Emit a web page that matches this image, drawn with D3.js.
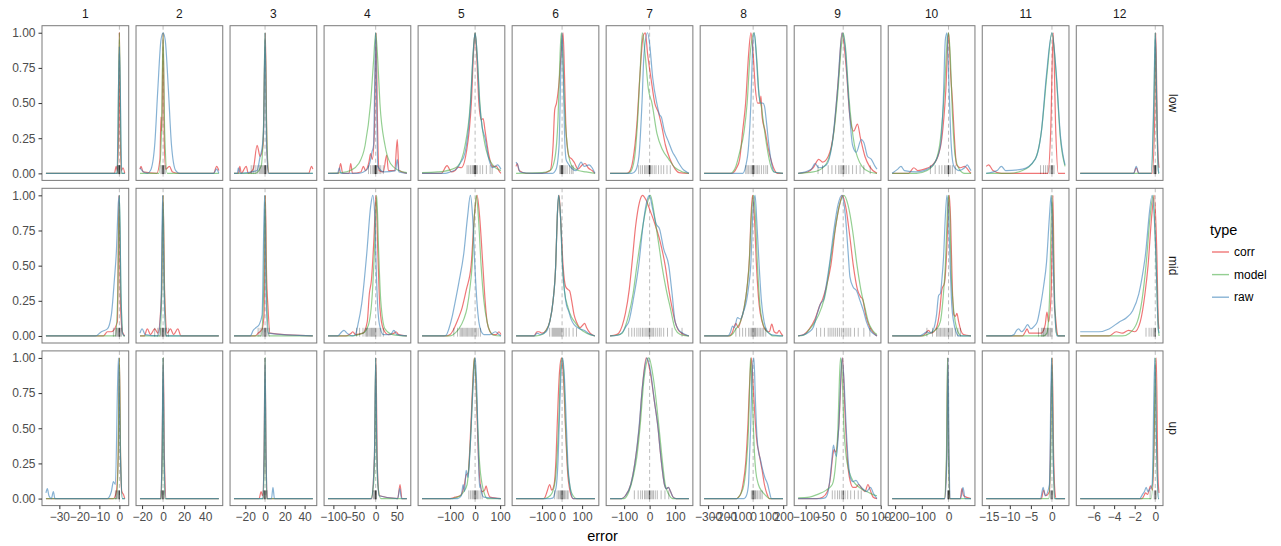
<!DOCTYPE html>
<html>
<head>
<meta charset="utf-8">
<script src="https://cdn.jsdelivr.net/npm/d3@7"></script>
<style>
  body { margin: 0; background: #fff; }
  text { font-family: "Liberation Sans", Arial, sans-serif; }
</style>
</head>
<body>
<svg id="chart" width="1281" height="546"></svg>
<script>
// facets
const cols = ["1","2","3","4","5","6","7","8","9","10","11","12"];
const rows = ["low","mid","up"];
const types = ["corr","model","raw"];

// data range per column (free x scales)
const xRange = [[-36.7,2.7],[-22,53],[-31.4,48.3],[-112.7,73.7],[-212,103],[-230,164],
                [-155,154],[-326.5,198.5],[-120,90],[-211,84],[-15.6,3.1],[-7.3,0.37]];
const xTicks = [[-30,-20,-10,0],[-20,0,20,40],[-20,0,20,40],[-100,-50,0,50],[-100,0,100],[-100,0,100],
                [-100,0,100],[-300,-200,-100,0,100,200],[-100,-50,0,50,100],[-200,-100,0],[-15,-10,-5,0],[-6,-4,-2,0]];
const yTicks = [0, 0.25, 0.5, 0.75, 1];

// scaled density curves: [row][col] -> [[error, scaled], ...]
const corrCurves = [
 [ // low
  [[-36.7,0],[-2.5,0],[-1.6,0.05],[-1,0.02],[-0.4,0.3],[0,1],[0.4,0.3],[1,0.02],[1.8,0.04],[2.7,0]],
  [[-22,0.03],[-21,0.05],[-19,0.01],[-6,0],[-3,0.1],[-2,0.4],[-1.2,0.3],[0,1],[1.2,0.2],[2.5,0.03],[6,0.05],[9,0.01],[15,0],[48,0],[51,0.05],[53,0.02]],
  [[-31.4,0],[-27,0],[-25.5,0.05],[-24,0],[-19,0.05],[-17,0],[-12,0.03],[-8,0.2],[-5,0.12],[-2,0.2],[0.3,1],[2,0.15],[4,0],[44,0],[47,0.05],[48.3,0.03]],
  [[-112.7,0],[-88,0],[-83,0.07],[-78,0],[-63,0],[-59,0.07],[-55,0],[-35,0.01],[-29,0.05],[-24,0.02],[-16,0.08],[-12,0.14],[-8,0.1],[-3,0.3],[1,1],[4,0.4],[8,0.02],[18,0.01],[26,0.13],[30,0.02],[45,0.02],[51,0.24],[55,0.02],[73.7,0]],
  [[-212,0],[-135,0],[-112,0.055],[-95,0.01],[-80,0.02],[-69,0.045],[-55,0.04],[-35,0.15],[-15,0.5],[-5,0.9],[0,1],[6,0.85],[15,0.5],[25,0.38],[32,0.39],[40,0.3],[55,0.13],[70,0.05],[85,0.05],[95,0.02],[103,0]],
  [[-230,0.05],[-224,0.07],[-215,0.02],[-180,0],[-100,0],[-60,0.02],[-45,0.2],[-37,0.45],[-28,0.5],[-15,0.65],[-5,0.85],[5,1],[12,0.7],[20,0.3],[35,0.12],[50,0.1],[60,0.08],[80,0.03],[100,0.06],[115,0.07],[130,0.04],[150,0.02],[164,0]],
  [[-155,0],[-90,0],[-80,0.01],[-65,0.1],[-50,0.35],[-38,0.7],[-25,0.98],[-17,1],[-8,0.85],[5,0.68],[20,0.5],[35,0.43],[48,0.33],[62,0.2],[80,0.1],[100,0.03],[115,0.005],[154,0]],
  [[-326.5,0],[-140,0],[-127,0.01],[-110,0.04],[-90,0.1],[-70,0.3],[-50,0.5],[-30,0.85],[-15,1],[0,0.85],[15,0.6],[30,0.5],[45,0.5],[52,0.55],[60,0.4],[80,0.3],[100,0.18],[118,0.1],[140,0.03],[162,0],[198.5,0]],
  [[-120,0],[-95,0.01],[-80,0.04],[-65,0.1],[-55,0.08],[-40,0.12],[-25,0.3],[-12,0.7],[-3,1],[8,0.75],[18,0.4],[28,0.3],[38,0.35],[46,0.25],[58,0.12],[70,0.05],[90,0]],
  [[-211,0],[-150,0],[-130,0.04],[-115,0.02],[-90,0.03],[-60,0.06],[-40,0.12],[-25,0.25],[-10,0.6],[0,1],[8,0.7],[15,0.5],[22,0.25],[30,0.06],[45,0.04],[60,0.05],[75,0.02],[84,0]],
  [[-15.6,0.05],[-15,0.06],[-14,0.02],[-12,0],[-1,0],[-0.3,0.3],[0.3,1],[0.9,0.3],[1.5,0],[3.1,0]],
  [[-7.3,0],[-2.1,0],[-1.85,0.04],[-1.6,0],[-0.3,0],[-0.05,0.4],[0.05,1],[0.2,0.3],[0.35,0.05],[0.37,0.04]]
 ],
 [ // mid
  [[-36.7,0],[-8,0],[-6,0.03],[-4,0.03],[-1,0.1],[-0.2,1],[0.6,0.2],[1.5,0.03],[2.7,0]],
  [[-22,0],[-18,0],[-15,0.05],[-12,0.01],[-8,0.05],[-5,0.02],[-1.5,0.3],[0,1],[1.5,0.3],[4,0.02],[7,0.05],[10,0.01],[14,0.05],[17,0],[53,0]],
  [[-31.4,0],[-10,0],[-7,0.02],[-3,0.05],[-1,0.15],[0.3,1],[1.5,0.45],[3,0.2],[5,0.02],[48.3,0]],
  [[-112.7,0],[-70,0],[-58,0.02],[-54,0.03],[-48,0.01],[-30,0.02],[-20,0.1],[-15,0.3],[-10,0.4],[-4,0.7],[0.8,1],[5,0.6],[10,0.2],[18,0.05],[30,0.01],[44,0.02],[48,0.03],[54,0.01],[73.7,0]],
  [[-212,0],[-115,0],[-100,0.01],[-85,0.05],[-68,0.12],[-52,0.2],[-35,0.33],[-16,0.5],[-3,0.85],[8,1],[18,0.85],[31,0.5],[40,0.25],[48,0.1],[60,0.03],[70,0.01],[85,0.01],[95,0.03],[103,0.01]],
  [[-230,0],[-140,0],[-125,0.03],[-115,0.03],[-100,0.02],[-80,0.04],[-62,0.1],[-45,0.25],[-32,0.5],[-24,0.85],[-15,1],[-6,0.8],[5,0.5],[18,0.35],[30,0.33],[38,0.32],[48,0.25],[60,0.15],[72,0.1],[90,0.06],[105,0.08],[113,0.09],[122,0.06],[140,0.02],[164,0]],
  [[-155,0],[-130,0.01],[-121,0.02],[-108,0.07],[-95,0.16],[-80,0.33],[-69,0.52],[-55,0.78],[-40,0.95],[-28,1],[-15,0.97],[0,0.9],[20,0.8],[40,0.68],[61,0.5],[75,0.33],[88,0.2],[100,0.1],[110,0.05],[125,0.02],[154,0]],
  [[-326.5,0],[-160,0],[-140,0.02],[-125,0.07],[-115,0.09],[-100,0.06],[-85,0.1],[-60,0.2],[-40,0.35],[-25,0.55],[-12,0.9],[-4,1],[8,0.85],[22,0.5],[40,0.22],[60,0.1],[85,0.04],[108,0.03],[124,0.085],[140,0.03],[160,0.02],[173,0.04],[185,0.02],[198.5,0]],
  [[-120,0],[-105,0.01],[-90,0.05],[-75,0.12],[-62,0.22],[-55,0.26],[-45,0.35],[-33,0.5],[-20,0.78],[-8,0.95],[-2,1],[8,0.9],[18,0.7],[27,0.5],[38,0.33],[46,0.28],[52,0.26],[60,0.15],[68,0.08],[76,0.04],[85,0.01],[90,0]],
  [[-211,0],[-100,0],[-85,0.02],[-75,0.04],[-65,0.02],[-45,0.06],[-33,0.18],[-25,0.33],[-15,0.38],[-7,0.6],[0,0.95],[3,1],[8,0.8],[14,0.35],[20,0.15],[26,0.14],[31,0.16],[38,0.1],[46,0.04],[56,0.01],[84,0]],
  [[-15.6,0],[-7,0],[-6.3,0.03],[-5.9,0.05],[-5.4,0.02],[-4,0.02],[-2.5,0.02],[-1.6,0.08],[-1.2,0.17],[-0.8,0.1],[-0.2,0.3],[0.24,1],[0.6,0.2],[0.8,0.15],[1.1,0.05],[1.5,0],[3.1,0]],
  [[-7.3,0],[-4.5,0],[-3.8,0.03],[-3.2,0.02],[-2.6,0.04],[-2,0.03],[-1.46,0.1],[-1,0.3],[-0.7,0.5],[-0.35,0.85],[-0.1,1],[0.15,0.6],[0.3,0.1],[0.37,0.05]]
 ],
 [ // up
  [[-36.7,0],[-3,0],[-1.5,0.05],[-0.6,0.3],[0,1],[0.6,0.3],[1.2,0.05],[2,0.03],[2.7,0]],
  [[-22,0],[-2.5,0],[-1,0.3],[0.2,1],[1.2,0.3],[3,0],[53,0]],
  [[-31.4,0],[-6,0],[-4,0.05],[-2.5,0.02],[-1,0.3],[0,1],[1,0.3],[2.5,0],[48.3,0]],
  [[-112.7,0],[-10,0],[-3,0.3],[0.5,1],[3.5,0.3],[6,0.08],[9,0.02],[52,0],[57.6,0.1],[62,0],[73.7,0]],
  [[-212,0],[-100,0],[-80,0.01],[-60,0.02],[-45,0.08],[-35,0.17],[-28,0.18],[-20,0.4],[-10,0.8],[-3,1],[4,0.8],[11,0.4],[18,0.15],[28,0.05],[38,0.06],[44,0.09],[50,0.05],[60,0.01],[103,0]],
  [[-230,0],[-95,0],[-87,0.005],[-75,0.05],[-62,0.1],[-52,0.06],[-40,0.1],[-30,0.3],[-25,0.5],[-13,0.9],[-3,1],[7,0.85],[17,0.5],[27,0.2],[40,0.05],[55,0],[164,0]],
  [[-155,0],[-110,0],[-95,0.02],[-74,0.1],[-58,0.25],[-41,0.5],[-28,0.8],[-13,1],[2,0.9],[18,0.7],[33,0.5],[42,0.33],[50,0.2],[58,0.1],[66,0.07],[73,0.08],[82,0.05],[92,0.01],[104,0],[154,0]],
  [[-326.5,0],[-110,0],[-97,0.01],[-80,0.04],[-68,0.1],[-50,0.25],[-36,0.5],[-22,0.85],[-12,1],[0,0.8],[17,0.5],[28,0.38],[36,0.34],[48,0.27],[60,0.2],[75,0.1],[90,0.04],[109,0],[198.5,0]],
  [[-120,0],[-70,0],[-55,0.01],[-42,0.05],[-34,0.15],[-28,0.3],[-24,0.35],[-20,0.33],[-12,0.5],[-2,1],[5,0.6],[12,0.25],[19,0.12],[26,0.08],[34,0.08],[41,0.1],[50,0.07],[58,0.05],[66,0.1],[72,0.06],[80,0.01],[90,0]],
  [[-211,0],[-15,0],[-7,0.3],[-3,1],[1,0.3],[6,0],[44,0],[50,0.07],[56,0.02],[84,0]],
  [[-15.6,0],[-2.5,0],[-2,0.06],[-1.5,0.02],[-0.6,0.05],[0.05,1],[0.4,0.3],[0.7,0.05],[1,0],[3.1,0]],
  [[-7.3,0],[-1.3,0],[-1.1,0.02],[-0.95,0.04],[-0.75,0.03],[-0.46,0.09],[-0.25,0.06],[0.1,1],[0.25,0.2],[0.35,0.05],[0.37,0.04]]
 ]
];

const modelCurves = [
 [
  [[-36.7,0],[-1,0],[0,1],[1,0],[2.7,0]],
  [[-22,0],[-4,0],[-1.5,0.3],[0,1],[1.5,0.3],[4,0],[53,0]],
  [[-31.4,0],[-10,0],[-4,0.05],[-1.5,0.35],[0,1],[1.5,0.35],[4,0],[48.3,0]],
  [[-112.7,0],[-80,0.005],[-60,0.02],[-40,0.07],[-25,0.2],[-12,0.5],[-5,0.8],[0,1],[5,0.8],[10,0.5],[22,0.2],[35,0.07],[55,0.02],[73.7,0.005]],
  [[-212,0.005],[-150,0.01],[-100,0.025],[-70,0.05],[-40,0.2],[-19,0.5],[-8,0.85],[0,1],[8,0.85],[19,0.5],[40,0.2],[75,0.05],[103,0.02]],
  [[-230,0],[-100,0.005],[-60,0.02],[-37,0.1],[-20,0.4],[-10,0.85],[-4,1],[3,0.85],[13,0.45],[30,0.15],[50,0.05],[80,0.02],[120,0.01],[164,0]],
  [[-155,0],[-90,0],[-76,0.01],[-60,0.1],[-48,0.35],[-38,0.7],[-28,1],[-18,0.85],[-5,0.6],[9,0.5],[29,0.28],[50,0.17],[75,0.1],[100,0.04],[130,0.01],[154,0]],
  [[-326.5,0],[-150,0],[-135,0.01],[-115,0.05],[-90,0.15],[-60,0.3],[-40,0.5],[-20,0.85],[7,1],[25,0.8],[40,0.55],[55,0.47],[70,0.35],[90,0.2],[118,0.05],[140,0.01],[198.5,0]],
  [[-120,0],[-80,0.01],[-50,0.05],[-30,0.2],[-15,0.55],[-5,0.9],[0,1],[6,0.9],[15,0.55],[30,0.2],[50,0.05],[70,0.01],[90,0]],
  [[-211,0],[-120,0],[-80,0.02],[-50,0.08],[-30,0.25],[-15,0.6],[-5,0.95],[0,1],[6,0.85],[15,0.4],[25,0.12],[40,0.03],[60,0],[84,0]],
  [[-15.6,0],[-10,0],[-7,0.02],[-4,0.1],[-2.5,0.3],[-1.2,0.7],[0,1],[1,0.7],[2,0.25],[3.1,0.05]],
  [[-7.3,0],[-0.4,0],[-0.1,0.6],[0,1],[0.1,0.6],[0.3,0],[0.37,0]]
 ],
 [
  [[-36.7,0],[-2,0],[-0.8,0.3],[0,1],[0.8,0.3],[2,0],[2.7,0]],
  [[-22,0],[-3,0],[-1.2,0.35],[0,1],[1.2,0.35],[3,0],[53,0]],
  [[-31.4,0],[-4,0],[-1.5,0.3],[0,1],[1.5,0.3],[4,0],[48.3,0]],
  [[-112.7,0],[-60,0],[-30,0.02],[-17,0.08],[-8,0.3],[-3,0.6],[2.4,1],[7,0.6],[12,0.25],[22,0.05],[40,0.01],[73.7,0]],
  [[-212,0],[-100,0],[-80,0.02],[-65,0.05],[-45,0.12],[-32,0.2],[-20,0.35],[-12,0.5],[-3,0.85],[5,1],[13,0.85],[24,0.5],[35,0.25],[48,0.1],[60,0.03],[75,0.005],[103,0]],
  [[-230,0],[-130,0],[-100,0.01],[-80,0.04],[-62,0.1],[-45,0.25],[-32,0.5],[-24,0.85],[-17,1],[-8,0.85],[2,0.5],[12,0.32],[30,0.2],[45,0.14],[63,0.1],[90,0.05],[122,0.02],[164,0]],
  [[-155,0],[-130,0.005],[-108,0.02],[-95,0.07],[-82,0.15],[-65,0.3],[-50,0.5],[-32,0.72],[-17,0.88],[3,1],[15,0.9],[25,0.78],[36,0.65],[48,0.5],[65,0.33],[81,0.2],[100,0.05],[120,0.01],[146,0],[154,0]],
  [[-326.5,0],[-160,0],[-140,0.01],[-115,0.05],[-85,0.1],[-60,0.2],[-40,0.35],[-27,0.5],[-12,0.85],[2,1],[15,0.85],[29,0.5],[45,0.22],[62,0.1],[85,0.04],[107,0.02],[130,0],[198.5,0]],
  [[-120,0],[-105,0.005],[-89,0.05],[-75,0.1],[-58,0.2],[-45,0.33],[-36,0.5],[-22,0.75],[-10,0.93],[2,1],[13,0.93],[25,0.75],[37,0.5],[47,0.33],[58,0.2],[67,0.1],[76,0.05],[85,0.02],[90,0.01]],
  [[-211,0],[-100,0],[-69,0.02],[-45,0.05],[-31,0.1],[-20,0.28],[-12,0.5],[-5,0.85],[0,1],[5,0.85],[9,0.5],[16,0.25],[25,0.1],[35,0.03],[50,0],[84,0]],
  [[-15.6,0],[-2,0],[-1.2,0.02],[-0.6,0.25],[0,1],[0.5,0.4],[1,0.03],[1.5,0],[3.1,0]],
  [[-7.3,0],[-3.2,0],[-2.5,0.02],[-1.75,0.1],[-1.3,0.25],[-0.9,0.5],[-0.5,0.85],[-0.2,1],[0.05,0.6],[0.3,0.05],[0.37,0]]
 ],
 [
  [[-36.7,0],[-1.5,0],[-0.6,0.3],[0,1],[0.6,0.3],[1.5,0],[2.7,0]],
  [[-22,0],[-2,0],[-0.8,0.3],[0,1],[0.8,0.3],[2,0],[53,0]],
  [[-31.4,0],[-2,0],[-0.8,0.3],[0,1],[0.8,0.3],[2,0],[48.3,0]],
  [[-112.7,0],[-12,0],[-5,0.1],[-2,0.4],[0,1],[2,0.4],[5,0.1],[12,0],[73.7,0]],
  [[-212,0],[-90,0],[-70,0.01],[-59,0.02],[-45,0.05],[-32,0.1],[-24,0.25],[-16,0.5],[-8,0.85],[-3,1],[3,0.85],[11,0.5],[18,0.25],[28,0.1],[38,0.03],[48,0],[103,0]],
  [[-230,0],[-90,0],[-70,0.01],[-50,0.04],[-35,0.12],[-25,0.3],[-18,0.5],[-8,0.9],[0,1],[8,0.9],[18,0.5],[28,0.22],[40,0.08],[55,0.02],[72,0],[164,0]],
  [[-155,0],[-100,0],[-81,0.05],[-65,0.15],[-50,0.3],[-38,0.5],[-22,0.85],[-3,1],[15,0.85],[37,0.5],[48,0.3],[61,0.1],[75,0.03],[90,0],[154,0]],
  [[-326.5,0],[-110,0],[-97,0.01],[-80,0.04],[-61,0.1],[-45,0.25],[-31,0.5],[-22,0.85],[-17,1],[-8,0.8],[2,0.5],[10,0.3],[17,0.2],[35,0.1],[60,0.05],[85,0.02],[109,0],[198.5,0]],
  [[-120,0.005],[-90,0.01],[-68,0.03],[-45,0.06],[-29,0.1],[-20,0.25],[-14,0.5],[-10,0.85],[-7,1],[-3,0.9],[2,0.5],[8,0.3],[15,0.2],[25,0.13],[34,0.1],[48,0.07],[63,0.05],[78,0.03],[90,0.02]],
  [[-211,0],[-16,0],[-8,0.3],[-4,1],[0,0.3],[5,0],[84,0]],
  [[-15.6,0],[-0.8,0],[-0.3,0.3],[0,1],[0.3,0.3],[0.6,0],[3.1,0]],
  [[-7.3,0],[-0.4,0],[-0.12,0.4],[0,1],[0.12,0.4],[0.3,0],[0.37,0]]
 ]
];

const rawCurves = [
 [
  [[-36.7,0],[-1.2,0],[0,0.9],[1.2,0],[2.7,0]],
  [[-22,0.04],[-20,0.02],[-15,0],[-12,0.02],[-8,0.2],[-5,0.6],[-2,0.95],[0,1],[2,0.95],[5,0.6],[8,0.2],[12,0.02],[16,0],[48,0],[51,0.03],[53,0]],
  [[-31.4,0],[-28,0],[-27,0.04],[-25,0],[-8,0.02],[-5,0.12],[-3.3,0.17],[-1.5,0.3],[0,1],[1.5,0.2],[3.5,0],[48.3,0]],
  [[-112.7,0],[-90,0],[-86,0.04],[-82,0],[-40,0],[-20,0.03],[-12,0.1],[-9,0.15],[-5,0.2],[-2,0.7],[0,1],[2,0.6],[5,0.05],[20,0.01],[47,0.02],[51,0.1],[55,0.01],[73.7,0]],
  [[-212,0],[-120,0],[-100,0.01],[-75,0.03],[-60,0.07],[-40,0.15],[-18,0.5],[-6,0.9],[0,1],[6,0.9],[18,0.5],[28,0.33],[40,0.25],[55,0.1],[70,0.04],[90,0.06],[103,0.03]],
  [[-230,0.08],[-222,0.06],[-210,0.01],[-150,0],[-50,0],[-30,0.03],[-15,0.2],[-7,0.7],[0,1],[6,0.7],[12,0.3],[20,0.1],[30,0.07],[45,0.04],[70,0.02],[95,0.08],[110,0.05],[135,0.06],[150,0.04],[164,0]],
  [[-155,0],[-70,0],[-55,0.02],[-42,0.12],[-30,0.5],[-22,0.85],[-8,1],[0,0.92],[12,0.68],[28,0.5],[38,0.42],[46,0.4],[58,0.3],[75,0.22],[90,0.15],[100,0.12],[115,0.07],[130,0.03],[145,0.01],[154,0]],
  [[-326.5,0],[-70,0],[-50,0.05],[-30,0.2],[-15,0.5],[-5,0.85],[7,1],[20,0.85],[35,0.6],[50,0.5],[65,0.5],[75,0.48],[90,0.35],[105,0.2],[118,0.1],[140,0.01],[198.5,0]],
  [[-120,0],[-85,0.03],[-75,0.07],[-65,0.04],[-45,0.06],[-30,0.2],[-15,0.6],[-3,1],[5,0.9],[15,0.5],[25,0.2],[35,0.15],[48,0.24],[55,0.22],[65,0.12],[75,0.1],[85,0.05],[90,0.03]],
  [[-211,0],[-190,0.03],[-178,0.05],[-165,0.02],[-120,0.01],[-70,0.04],[-45,0.1],[-30,0.2],[-20,0.5],[-12,0.95],[-6,1],[2,0.6],[10,0.2],[20,0.05],[40,0.02],[60,0.04],[70,0.06],[80,0.03],[84,0.02]],
  [[-15.6,0],[-13,0.02],[-12,0.05],[-11,0.02],[-7,0.03],[-4,0.1],[-2.5,0.3],[-1.3,0.7],[0,1],[1,0.72],[2,0.27],[3.1,0.06]],
  [[-7.3,0],[-2.1,0],[-1.85,0.05],[-1.6,0],[-0.4,0],[-0.12,0.6],[0,1],[0.12,0.6],[0.3,0.02],[0.37,0]]
 ],
 [
  [[-36.7,0],[-12,0],[-9,0.03],[-6,0.05],[-4,0.15],[-2.5,0.4],[-1.5,0.6],[-0.5,0.95],[0,1],[0.8,0.3],[1.5,0.02],[2.7,0]],
  [[-22,0.02],[-20,0.05],[-17,0.01],[-5,0],[-2,0.2],[-0.5,1],[1,0.3],[3,0],[53,0]],
  [[-31.4,0],[-15,0],[-12,0.04],[-9,0.06],[-6,0.08],[-3,0.15],[-0.5,1],[1,0.3],[3,0.02],[48.3,0]],
  [[-112.7,0],[-90,0],[-80,0.03],[-75,0.04],[-68,0.02],[-55,0],[-48,0.01],[-42,0.08],[-33,0.23],[-21,0.59],[-12,0.92],[-7,1],[-2,0.85],[1,0.5],[5,0.2],[9,0.08],[18,0.01],[35,0.01],[43,0.04],[50,0.01],[73.7,0]],
  [[-212,0],[-125,0],[-116,0.005],[-105,0.05],[-90,0.15],[-81,0.23],[-65,0.38],[-45,0.59],[-30,0.85],[-19,1],[-10,0.85],[-1,0.5],[7,0.25],[15,0.1],[25,0.03],[35,0.01],[60,0.01],[81,0.03],[95,0.01],[103,0]],
  [[-230,0],[-140,0],[-125,0.02],[-110,0.01],[-80,0.03],[-62,0.1],[-45,0.25],[-32,0.5],[-24,0.85],[-18,1],[-8,0.85],[2,0.5],[12,0.32],[22,0.22],[32,0.18],[45,0.12],[60,0.08],[90,0.05],[110,0.04],[130,0.02],[164,0]],
  [[-155,0],[-125,0.005],[-105,0.03],[-92,0.07],[-82,0.1],[-65,0.25],[-43,0.5],[-25,0.8],[-12,0.95],[-1,1],[12,0.9],[25,0.8],[39,0.76],[55,0.62],[75,0.5],[88,0.3],[100,0.1],[115,0.04],[130,0.02],[154,0]],
  [[-326.5,0],[-170,0],[-150,0.03],[-138,0.07],[-125,0.06],[-104,0.13],[-85,0.12],[-65,0.17],[-44,0.25],[-30,0.35],[-16,0.5],[-3,0.85],[13,1],[25,0.8],[40,0.5],[55,0.25],[73,0.1],[96,0.03],[120,0.01],[198.5,0]],
  [[-120,0],[-110,0.005],[-90,0.03],[-80,0.06],[-70,0.15],[-60,0.23],[-52,0.26],[-44,0.38],[-36,0.52],[-25,0.75],[-14,0.93],[-4,1],[6,0.85],[13,0.6],[18,0.42],[26,0.35],[36,0.32],[45,0.25],[55,0.17],[62,0.1],[72,0.04],[84,0.01],[90,0]],
  [[-211,0],[-110,0],[-90,0.02],[-81,0.03],[-70,0.02],[-56,0.05],[-45,0.15],[-37,0.29],[-31,0.3],[-25,0.4],[-19,0.55],[-12,0.85],[-6,1],[0,0.85],[6,0.5],[12,0.22],[19,0.1],[28,0.03],[37,0],[84,0]],
  [[-15.6,0],[-10,0],[-9,0.01],[-8.4,0.04],[-7.9,0.05],[-7.2,0.03],[-6.5,0.05],[-5.8,0.08],[-5,0.05],[-4.2,0.07],[-3.5,0.1],[-2.8,0.2],[-2,0.35],[-1.3,0.52],[-0.6,0.85],[-0.2,1],[0.3,0.5],[0.8,0.1],[1.2,0],[3.1,0]],
  [[-7.3,0.03],[-6.5,0.03],[-5.5,0.03],[-4.5,0.05],[-3.5,0.1],[-2.8,0.13],[-2.2,0.18],[-1.6,0.3],[-1,0.55],[-0.3,1],[0,0.7],[0.3,0.05],[0.37,0.02]]
 ],
 [
  [[-36.7,0.04],[-36,0.07],[-35.2,0.02],[-34,0],[-33,0.05],[-32.2,0],[-6,0],[-4,0.05],[-3,0.12],[-2,0.1],[-0.5,1],[0.5,0.3],[1.5,0],[2.7,0]],
  [[-22,0],[-2.5,0],[-1,0.3],[0,1],[1,0.3],[2.5,0],[53,0]],
  [[-31.4,0],[-2.5,0],[-1,0.3],[0,1],[1,0.3],[2.5,0],[6.5,0],[8,0.08],[9.5,0],[48.3,0]],
  [[-112.7,0],[-10,0],[-3,0.3],[0,1],[3,0.3],[8,0.02],[52,0],[57,0.07],[61,0],[73.7,0]],
  [[-212,0],[-70,0],[-55,0.02],[-48,0.1],[-42,0.05],[-36,0.2],[-28,0.15],[-20,0.35],[-8,0.8],[1,1],[8,0.7],[14,0.25],[18,0.08],[21,0.1],[25,0.05],[35,0.01],[103,0]],
  [[-230,0],[-60,0],[-45,0.005],[-35,0.05],[-28,0.1],[-20,0.28],[-15,0.5],[-5,0.9],[3,1],[12,0.85],[22,0.5],[30,0.22],[38,0.1],[48,0.02],[55,0],[164,0]],
  [[-155,0],[-110,0],[-95,0.02],[-74,0.1],[-58,0.25],[-42,0.5],[-28,0.8],[-10,1],[4,0.9],[18,0.7],[33,0.5],[42,0.33],[50,0.2],[58,0.1],[66,0.07],[74,0.08],[82,0.05],[92,0.01],[104,0],[154,0]],
  [[-326.5,0],[-60,0],[-45,0.02],[-31,0.1],[-24,0.3],[-17,0.5],[-6,0.9],[5,1],[15,0.7],[25,0.45],[36,0.33],[48,0.28],[60,0.22],[78,0.15],[97,0.1],[110,0.04],[121,0],[198.5,0]],
  [[-120,0],[-60,0],[-48,0.005],[-42,0.03],[-37,0.1],[-31,0.25],[-26,0.38],[-22,0.33],[-18,0.3],[-12,0.5],[-3,1],[3,0.8],[8,0.5],[14,0.25],[19,0.15],[26,0.12],[34,0.13],[42,0.1],[52,0.07],[62,0.05],[73,0.08],[80,0.04],[87,0.01],[90,0]],
  [[-211,0],[-14,0],[-6,0.3],[-2,1],[2,0.3],[7,0],[45,0],[54,0.08],[62,0],[84,0]],
  [[-15.6,0],[-2.7,0],[-2.1,0.08],[-1.6,0.02],[-0.6,0.1],[-0.1,1],[0.3,0.3],[0.7,0],[3.1,0]],
  [[-7.3,0],[-1.5,0],[-1.24,0.03],[-1.05,0.05],[-0.88,0.08],[-0.72,0.05],[-0.6,0.06],[-0.3,0.1],[-0.05,1],[0.15,0.3],[0.3,0],[0.37,0]]
 ]
];

// observed errors shown as rug, [row][col]
const rugs = [
 [
  [-1,-0.6,-0.4,-0.2,0,0,0,0.2,0.4],
  [-2,-1,-0.5,0,0,0,0.5,1,2],
  [-14,-12,-10,-8,-6,-5,-4,-3,-2,-1,0,0,0,0,0.5,1,2],
  [-17,-12,-8,-5,-3,-2,-1,0,0,0,0,1,2,4,8,12,18],
  [-32,-25,-18,-12,-8,-5,-3,-1,0,0,0,1,3,5,10,20,30,45,60,68],
  [-12,-8,-5,-3,-1,0,0,0,1,3,8,15,25,38,48,55],
  [-43,-35,-28,-20,-15,-10,-5,-2,0,0,0,0,2,5,10,18,25,35,45,55,68,81],
  [-49,-40,-30,-20,-10,-5,0,0,0,0,5,10,20,30,40,55,70,85,96],
  [-67,-55,-40,-30,-20,-12,-8,-4,0,0,0,4,8,15,25,35,45,55,72],
  [-68,-50,-35,-25,-15,-10,-5,-2,0,0,0,3,8,15,25],
  [-2.7,-2,-1.5,-1,-0.5,-0.2,0,0,0,0.2,0.5],
  [-0.15,-0.1,-0.05,0,0,0,0,0.05,0.1]
 ],
 [
  [-3,-2,-1.5,-1,-0.5,-0.2,0,0,0,0.5,1],
  [-8,-5,-3,-2,-1,-0.5,0,0,0,1,2,3,5],
  [-7,-5,-3,-2,-1,0,0,0,1,2,4],
  [-45,-38,-30,-25,-22,-20,-18,-15,-12,-10,-8,-6,-4,-2,0,3,8,12,18],
  [-85,-70,-60,-55,-50,-45,-40,-35,-30,-25,-20,-15,-10,-5,0,5,12,21],
  [-62,-50,-45,-40,-35,-30,-25,-20,-15,-10,-5,0,8,20,35,55,72],
  [-82,-70,-60,-50,-42,-35,-28,-22,-15,-10,-5,0,0,5,10,15,22,30,38,45,55,70,88,127],
  [-115,-90,-70,-50,-30,-20,-10,-5,0,5,10,15,20,30,40,50,60,70,84],
  [-71,-60,-50,-40,-35,-30,-25,-20,-15,-10,-5,0,5,10,15,20,30,40,55,71],
  [-81,-60,-45,-40,-35,-30,-25,-20,-15,-10,-5,0,5,10,15,25,35,44],
  [-3.2,-2.5,-2.2,-2,-1.8,-1.5,-1.2,-1,-0.8,-0.5,-0.3,0],
  [-0.9,-0.6,-0.4,-0.2,-0.1,0,0,0]
 ],
 [
  [-2,-1.5,-1,-0.5,-0.2,0,0,0],
  [-2,-1,-0.5,0,0,0,1],
  [-2,-1,-0.5,0,0,0,1,2],
  [-6,-4,-2,-1,0,0,0,1,2],
  [-25,-18,-12,-8,-4,0,0,0,4,8,12,20,28],
  [-37,-25,-18,-12,-8,-4,0,0,0,4,8,12,18,25,30],
  [-60,-45,-35,-28,-20,-15,-10,-5,0,0,0,5,10,15,22,30,45,60,75],
  [-12,-5,0,0,0,5,10,15,20,30,40,50,60],
  [-29,-22,-15,-10,-5,0,0,0,5,12,20,30,40,48],
  [-4,-2,0,0,0,2,4],
  [-0.4,-0.2,0,0,0,0.2],
  [-0.5,-0.1,0,0,0,0.1]
 ]
];

const curvesByType = { corr: corrCurves, model: modelCurves, raw: rawCurves };
const color = d3.scaleOrdinal().domain(types).range(["#E41A1C", "#4DAF4A", "#377EB8"]);

// layout
const svg = d3.select("#chart");
const plotLeft = 42, plotRight = 1163, plotTop = 25.7;
const gapX = 7.3, gapY = 7.9, panelH = 154.7;
const panelW = (plotRight - plotLeft - gapX * (cols.length - 1)) / cols.length;

const y = d3.scaleLinear().domain([-0.05, 1.05]).range([panelH, 0]);
const fmtY = d3.format(".2f");

rows.forEach((rowName, r) => {
  cols.forEach((colName, c) => {
    const x0 = plotLeft + c * (panelW + gapX);
    const y0 = plotTop + r * (panelH + gapY);
    const [lo, hi] = xRange[c];
    const pad = (hi - lo) * 0.05;
    const x = d3.scaleLinear().domain([lo - pad, hi + pad]).range([0, panelW]);

    const g = svg.append("g").attr("transform", `translate(${x0},${y0})`);

    g.append("rect")
      .attr("width", panelW).attr("height", panelH)
      .attr("fill", "#fff");

    // zero reference
    g.append("line")
      .attr("x1", x(0)).attr("x2", x(0))
      .attr("y1", 0).attr("y2", panelH)
      .attr("stroke", "#bdbdbd")
      .attr("stroke-width", 1)
      .attr("stroke-dasharray", "4,3");

    const line = d3.line()
      .x(d => x(d[0]))
      .y(d => y(d[1]))
      .curve(d3.curveMonotoneX);

    types.forEach(t => {
      g.append("path")
        .datum(curvesByType[t][r][c])
        .attr("d", line)
        .attr("fill", "none")
        .attr("stroke", color(t))
        .attr("stroke-opacity", 0.6)
        .attr("stroke-width", 1.2);
    });

    g.append("g")
      .selectAll("line")
      .data(rugs[r][c])
      .join("line")
      .attr("x1", d => x(d)).attr("x2", d => x(d))
      .attr("y1", y(-0.005)).attr("y2", y(0.058))
      .attr("stroke", "#000")
      .attr("stroke-opacity", 0.28)
      .attr("stroke-width", 1);

    g.append("rect")
      .attr("width", panelW).attr("height", panelH)
      .attr("fill", "none")
      .attr("stroke", "#7a7a7a")
      .attr("stroke-width", 1);

    // y axis on first column
    if (c === 0) {
      const ay = g.append("g").call(d3.axisLeft(y).tickValues(yTicks).tickFormat(fmtY).tickSize(3.5).tickPadding(3));
      ay.select(".domain").remove();
      ay.selectAll(".tick line").attr("stroke", "#333");
      ay.selectAll("text").attr("fill", "#4d4d4d").style("font-size", "12px");
    }
    // x axis on bottom row
    if (r === rows.length - 1) {
      const ax = g.append("g").attr("transform", `translate(0,${panelH})`)
        .call(d3.axisBottom(x).tickValues(xTicks[c]).tickSize(3.5).tickPadding(3));
      ax.select(".domain").remove();
      ax.selectAll(".tick line").attr("stroke", "#333");
      ax.selectAll("text").attr("fill", "#4d4d4d").style("font-size", "12px");
    }
    // column strip
    if (r === 0) {
      svg.append("text")
        .attr("x", x0 + panelW / 2).attr("y", 18)
        .attr("text-anchor", "middle")
        .attr("fill", "#1a1a1a")
        .style("font-size", "12px")
        .text(colName);
    }
    // row strip
    if (c === cols.length - 1) {
      svg.append("text")
        .attr("transform", `translate(${plotRight + 6},${y0 + panelH / 2}) rotate(90)`)
        .attr("text-anchor", "middle")
        .attr("fill", "#1a1a1a")
        .style("font-size", "12px")
        .text(rowName);
    }
  });
});

// axis title
svg.append("text")
  .attr("x", (plotLeft + plotRight) / 2).attr("y", 541)
  .attr("text-anchor", "middle")
  .style("font-size", "14.5px")
  .text("error");

// legend
const legend = svg.append("g").attr("transform", "translate(1210,0)");
legend.append("text")
  .attr("x", 0).attr("y", 235)
  .style("font-size", "14.5px")
  .text("type");
types.forEach((t, i) => {
  const ly = 252 + i * 22.6;
  legend.append("line")
    .attr("x1", 2).attr("x2", 19)
    .attr("y1", ly).attr("y2", ly)
    .attr("stroke", color(t))
    .attr("stroke-opacity", 0.6)
    .attr("stroke-width", 1.4);
  legend.append("text")
    .attr("x", 24).attr("y", ly + 4)
    .style("font-size", "12px")
    .text(t);
});
</script>
</body>
</html>
